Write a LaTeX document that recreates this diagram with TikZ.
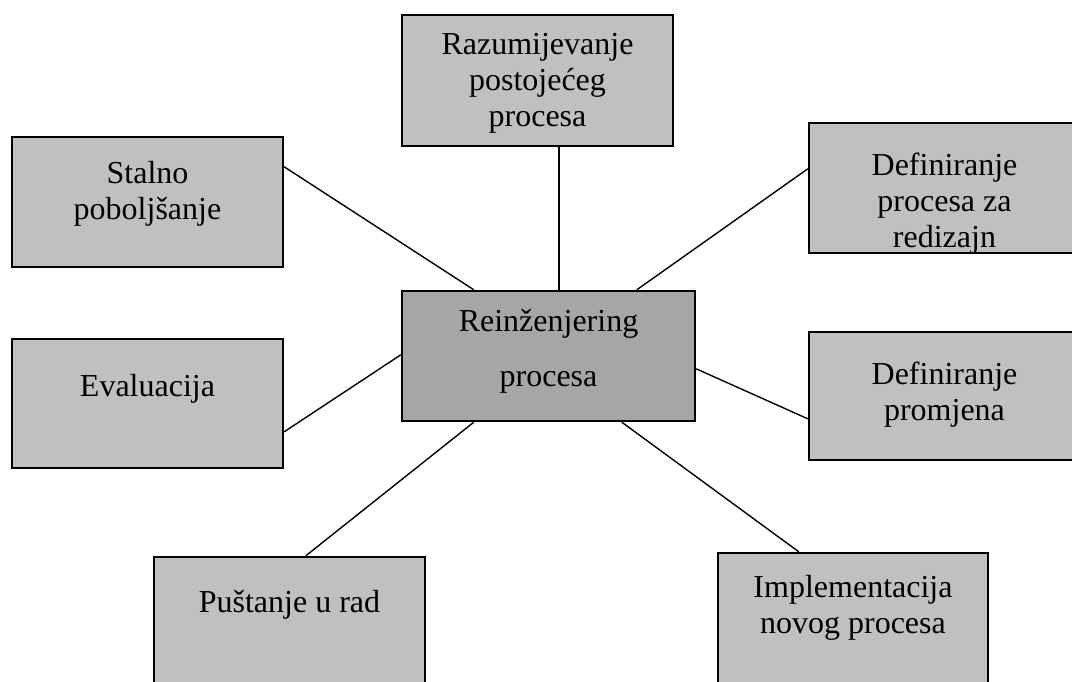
\documentclass[tikz,border=0pt]{standalone}
\usepackage{fontspec}
\setmainfont{Liberation Serif}
\usetikzlibrary{calc}
\definecolor{boxgray}{HTML}{C0C0C0}
\definecolor{centergray}{HTML}{A6A6A6}
\begin{document}
\begin{tikzpicture}[x=1pt,y=-1pt,
  box/.style={draw=black, line width=2.4pt, fill=boxgray, rectangle, inner sep=0pt},
  cbox/.style={box, fill=centergray},
  lbl/.style={anchor=north, inner sep=0pt, align=center, font=\fontsize{32}{36}\selectfont},
  clbl/.style={anchor=north, inner sep=0pt, align=center, font=\fontsize{32}{55}\selectfont},
  conn/.style={draw=black, line width=1.4pt}]
\useasboundingbox (0,0) rectangle (1072,682);
\clip (0,0) rectangle (1072,682);
% boxes
\node[cbox, minimum width=293pt, minimum height=130pt] (c) at (548.5,356) {};
\node[box, minimum width=271pt, minimum height=131pt] (top) at (537.5,80.5) {};
\node[box, minimum width=271pt, minimum height=130pt] (stalno) at (147.5,202) {};
\node[box, minimum width=271pt, minimum height=130pt] (defproc) at (944.5,188) {};
\node[box, minimum width=271pt, minimum height=129pt] (eval) at (147.5,403.5) {};
\node[box, minimum width=271pt, minimum height=128pt] (defpro) at (944.5,396) {};
\node[box, minimum width=271pt, minimum height=130pt] (pust) at (289.5,622) {};
\node[box, minimum width=270pt, minimum height=130pt] (impl) at (853,618) {};
% labels
\node[clbl] (tc) at ([yshift=-2.5pt]c.north) {\strut Reinženjering\\procesa};
\node[lbl] (ttop) at ([yshift=-15pt]top.north) {\strut Razumijevanje\\postojećeg\\procesa};
\node[lbl] (tstalno) at ([yshift=-22pt]stalno.north) {\strut Stalno\\poboljšanje};
\node[lbl] (tdefproc) at ([yshift=-28pt]defproc.north) {\strut Definiranje\\procesa za\\redizajn};
\node[lbl] (teval) at ([yshift=-33pt]eval.north) {\strut Evaluacija};
\node[lbl] (tdefpro) at ([yshift=-28pt]defpro.north) {\strut Definiranje\\promjena};
\node[lbl] (tpust) at ([yshift=-31pt]pust.north) {\strut Puštanje u rad};
\node[lbl] (timpl) at ([yshift=-20pt]impl.north) {\strut Implementacija\\novog procesa};
% connectors
\draw[conn] ([xshift=158pt]top.south west) -- ([xshift=158pt]c.north west);
\draw[conn] ([yshift=-31pt]stalno.north east) -- ([xshift=73pt]c.north west);
\draw[conn] ([yshift=-47pt]defproc.north west) -- ([xshift=236pt]c.north west);
\draw[conn] ([yshift=-94pt]eval.north east) -- ([yshift=-65pt]c.north west);
\draw[conn] ([yshift=-88pt]defpro.north west) -- ([yshift=-79pt]c.north east);
\draw[conn] ([xshift=153pt]pust.north west) -- ([xshift=73pt]c.south west);
\draw[conn] ([xshift=82pt]impl.north west) -- ([xshift=221pt]c.south west);
\end{tikzpicture}
\end{document}
